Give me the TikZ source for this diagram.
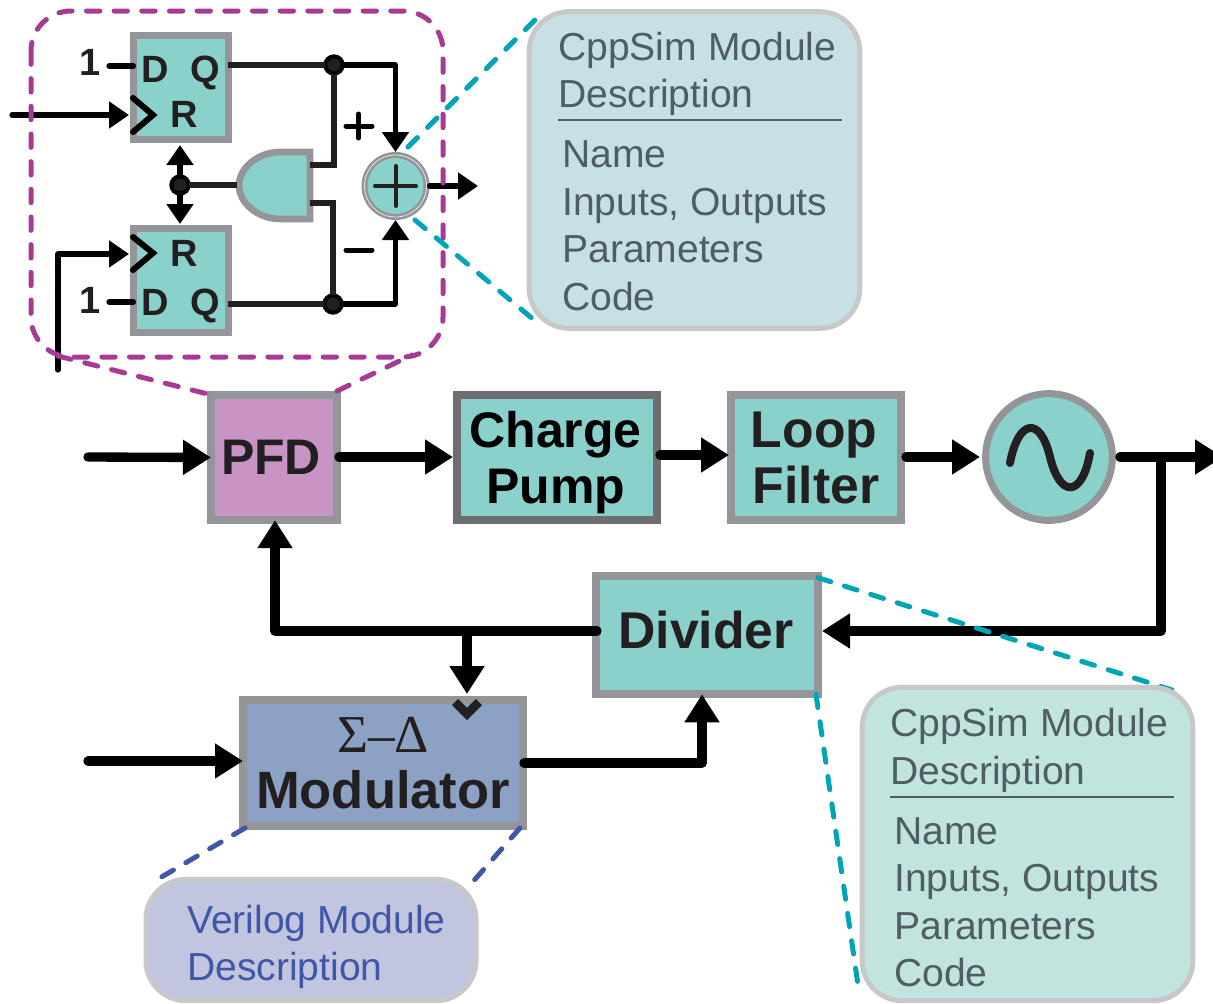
\documentclass[tikz,border=0pt]{standalone}
\usepackage{fontspec}
\setmainfont{Liberation Sans}
\newfontfamily\serifgreek{Liberation Serif}
\usetikzlibrary{arrows.meta}
\definecolor{tealfill}{HTML}{8AD1CB}
\definecolor{boxgray}{HTML}{939598}
\definecolor{darkgray}{HTML}{6D6E71}
\definecolor{pfdfill}{HTML}{C794C4}
\definecolor{modfill}{HTML}{8BA2C4}
\definecolor{ink}{HTML}{231F20}
\definecolor{magdash}{HTML}{A63A95}
\definecolor{teadash}{HTML}{00A5B5}
\definecolor{bludash}{HTML}{3F57A6}
\definecolor{calloutA}{HTML}{C7E0E5}
\definecolor{calloutB}{HTML}{C2E4DF}
\definecolor{calloutC}{HTML}{C2C5E0}
\definecolor{calloutedge}{HTML}{C8C8C8}
\definecolor{callouttext}{HTML}{4F5E62}
\tikzset{
  block/.style={draw=boxgray,fill=tealfill,line width=6pt,rectangle,inner sep=0pt,outer sep=0pt},
  blocktext/.style={anchor=base,inner sep=0pt,font=\fontsize{38.8}{42}\selectfont\bfseries,text=ink},
  ffbox/.style={draw=boxgray,fill=tealfill,line width=5.25pt,rectangle,inner sep=0pt,outer sep=0pt,minimum width=71.25pt,minimum height=78pt},
  callout/.style={draw=calloutedge,line width=3.75pt,rectangle,rounded corners=30pt,inner sep=0pt,outer sep=0pt},
  ctext/.style={anchor=base west,inner sep=0pt,font=\fontsize{29.3}{32}\selectfont,text=callouttext},
  vtext/.style={ctext,text=bludash},
  ffletter/.style={anchor=base,inner sep=0pt,font=\fontsize{28.5}{30}\selectfont\bfseries,text=ink},
  wire/.style={line width=3.9pt,draw=ink,line cap=butt,line join=round},
  smallarrow/.style={line width=3.9pt,draw=black,line join=round,line cap=round,-{Triangle[length=15pt,width=19.5pt]}},
  mainarrow/.style={line width=7pt,draw=black,line join=round,line cap=round,-{Triangle[length=21pt,width=25pt]}},
  joint/.style={circle,fill=ink,draw=black,line width=3pt,inner sep=0pt,minimum size=13pt,outer sep=0pt},
  dashcommon/.style={line width=3.75pt,dash pattern=on 10pt off 10.75pt,line cap=round},
  magdashed/.style={dashcommon,draw=magdash},
  teadashed/.style={dashcommon,draw=teadash},
  bludashed/.style={dashcommon,draw=bludash},
}
\begin{document}
\begin{tikzpicture}[x=0.75pt,y=-0.75pt]
\useasboundingbox (0,0) rectangle (1213,1003);
\clip (0,0) rectangle (1213,1003);
% ---------- main blocks
\node[block,fill=pfdfill,minimum width=94.5pt,minimum height=94pt] (pfd) at (274,457.5) {};
\node[blocktext,font=\fontsize{37.5}{42}\selectfont\bfseries] (pfdt) at (271,474) {PFD};
\node[block,draw=darkgray,minimum width=150pt,minimum height=94pt] (cp) at (557,457.5) {};
\node[blocktext,font=\fontsize{37.5}{42}\selectfont\bfseries,text=black] (cpa) at (555.5,447) {Charge};
\node[blocktext,font=\fontsize{37.5}{42}\selectfont\bfseries,text=black] (cpb) at (556,503) {Pump};
\node[block,minimum width=127.5pt,minimum height=94pt] (lf) at (816,457.5) {};
\node[blocktext] (lfa) at (814,447) {Loop};
\node[blocktext] (lfb) at (816,503) {Filter};
\node[circle,draw=boxgray,fill=tealfill,line width=5.25pt,inner sep=0pt,outer sep=0pt,minimum size=95pt] (vco) at (1049,457) {};
\draw[line width=6pt,draw=ink,line cap=round] (1010,463) .. controls (1018,420) and (1040,415) .. (1050,457) .. controls (1060,498) and (1082,498) .. (1090,453);
\node[block,minimum width=166.5pt,minimum height=89pt] (div) at (707,635) {};
\node[blocktext] (divt) at (706,648) {Divider};
\node[block,fill=modfill,minimum width=210pt,minimum height=94.5pt] (mod) at (383,763) {};
\node[inner sep=0pt,font=\fontsize{40}{42}\selectfont\serifgreek,text=ink] (sd) at (383,735) {Σ–Δ};
\node[blocktext,font=\fontsize{39.4}{42}\selectfont\bfseries] (modl) at (383,808) {Modulator};
% ---------- main connectors
\coordinate (pfdin) at (88,457);
\coordinate (modin) at (88,761);
\coordinate (pfdout) at (339,457);
\coordinate (cpin) at (453,457);
\coordinate (cpout) at (660,455);
\coordinate (lfin) at (729,455);
\coordinate (lfout) at (906,457);
\coordinate (vcoin) at (980,457);
\coordinate (vcoout) at (1120,457);
\coordinate (vcoend) at (1223,457);
\coordinate (branch) at (1161,457);
\coordinate (divin) at (822,631);
\coordinate (divout) at (597,631);
\coordinate (fbl) at (275,631);
\coordinate (fbm) at (467,631);
\coordinate (modtop) at (467,694);
\coordinate (modout) at (524,763);
\coordinate (modr) at (702,763);
\draw[mainarrow] (pfdin) -- (pfd.west);
\draw[mainarrow] (pfdout) -- (cpin);
\draw[mainarrow] (cpout) -- (lfin);
\draw[mainarrow] (lfout) -- (vcoin);
\draw[mainarrow] (vcoout) -- (vcoend);
\draw[mainarrow] (branch) |- (divin);
\draw[mainarrow] (divout) -- (fbl) -- (fbl |- pfd.south);
\draw[mainarrow] (fbm) -- (modtop);
\draw[line width=6.5pt,draw=ink] (455,702) -- (467,714) -- (479,702);
\draw[mainarrow] (modout) -- (modr) -- (modr |- div.south);
\draw[mainarrow] (modin) -- (mod.west |- modin);
% ---------- PFD detail
\node[ffbox] (ffa) at (181,87.5) {};
\node[ffbox] (ffb) at (181,280.5) {};
\node[ffletter] (da) at (155,82) {D};
\node[ffletter] (qa) at (205,82) {Q};
\node[ffletter] (ra) at (184,127) {R};
\node[ffletter] (rb) at (184,266) {R};
\node[ffletter] (db) at (155,315) {D};
\node[ffletter] (qb) at (205,315) {Q};
\node[ffletter] (onea) at (90,75) {1};
\node[ffletter] (oneb) at (90,313) {1};
\coordinate (wonea) at (109,66);
\coordinate (woneb) at (109,302);
\draw[wire,line cap=round,draw=black] (wonea) -- (ffa.west |- wonea);
\draw[wire,line cap=round,draw=black] (woneb) -- (ffb.west |- woneb);
\draw[line width=4.5pt,line cap=round,line join=miter,draw=black] (133,98) -- (153,115) -- (133,132);
\draw[line width=4.5pt,line cap=round,line join=miter,draw=black] (133,237) -- (153,253) -- (133,270);
% AND gate
\draw[draw=boxgray,fill=tealfill,line width=5pt,line join=miter] (310,152) -- (310,219) -- (280,219) .. controls (258,219) and (239,203) .. (239,185.5) .. controls (239,168) and (258,152) .. (280,152) -- cycle;
\coordinate (gatel) at (237,185);
\coordinate (gateu) at (310,165);
\coordinate (gated) at (310,203);
\node[joint] (ja) at (334,65) {};
\node[joint] (jb) at (333,304) {};
\node[joint] (jc) at (180,185) {};
\node[circle,draw=boxgray,fill=tealfill,line width=4.5pt,inner sep=0pt,outer sep=2.25pt,minimum size=46.5pt] (sum) at (395.5,186) {};
\draw[draw=white!75!boxgray,line width=0.6pt] (sum) circle (31);
\draw[line width=3pt,line cap=round,draw=ink] (375,186) -- (416,186);
\draw[line width=3pt,line cap=round,draw=ink] (395.5,166) -- (395.5,206);
\draw[wire] (ffa.east |- ja) ++(-1,0) -- (ja);
\draw[wire] (ffb.east |- jb) ++(-1,0) -- (jb);
\draw[wire,line join=miter] (ja) -- (ja |- gateu) -- (gateu);
\draw[wire,line join=miter] (gated) -- (jb |- gated) -- (jb);
\draw[wire] (jc) -- (gatel);
\draw[smallarrow] (ja) -| (sum.north);
\draw[smallarrow] (jb) -| (sum.south);
\draw[smallarrow] (jc) -- (180,145);
\draw[smallarrow] (jc) -- (180,224);
\coordinate (ina) at (12,115);
\coordinate (inb) at (58,370);
\coordinate (sumout) at (478,186);
\draw[smallarrow] (ina) -- (129,115);
\draw[smallarrow] (inb) -- (58,254) -- (129,254);
\draw[smallarrow] (sum.east) -- (sumout);
\draw[line width=3.75pt,line cap=round,draw=black] (346,126) -- (372,126) (358.5,114) -- (358.5,138);
\draw[line width=3.75pt,line cap=round,draw=black] (346,250) -- (372,250);
% ---------- dashed zoom outlines
\draw[magdashed,rounded corners=30pt] (31,11) rectangle (443,357);
\coordinate (ma) at (58,356);
\coordinate (mb) at (337,391);
\coordinate (mc) at (412,355);
\draw[magdashed] (ma) -- (pfd.north west);
\draw[magdashed] (mb) -- (mc);
\coordinate (taa) at (408,147);
\coordinate (tab) at (540,15);
\coordinate (tba) at (415,220);
\coordinate (tbb) at (540,325);
\draw[teadashed] (taa) -- (tab);
\draw[teadashed] (tba) -- (tbb);
\coordinate (tca) at (1172,690);
\coordinate (tcb) at (858,985);
\draw[teadashed] (div.north east) ++(0,2) -- (tca);
\draw[teadashed] (div.south east) ++(-2,0) -- (tcb);
\coordinate (bla) at (153,882);
\coordinate (blb) at (470,885);
\draw[bludashed] (mod.south west) ++(2,2) -- (bla);
\draw[bludashed] (mod.south east) ++(-3,2) -- (blb);
% ---------- callouts
\node[callout,fill=calloutA,minimum width=248pt,minimum height=237.5pt] (ca) at (694.5,170) {};
\node[callout,fill=calloutB,minimum width=248pt,minimum height=235pt] (cb) at (1027.5,844) {};
\node[callout,fill=calloutC,minimum width=247.5pt,minimum height=91pt] (cc) at (311,940) {};
\node[ctext] (t1) at (558,60) {CppSim Module};
\node[ctext] (t2) at (558,107) {Description};
\draw[draw=callouttext,line width=1.8pt] (558,120) -- (842,120);
\node[ctext] (t3) at (562,167) {Name};
\node[ctext] (t4) at (562,215) {Inputs, Outputs};
\node[ctext] (t5) at (562,262) {Parameters};
\node[ctext] (t6) at (562,310) {Code};
\node[ctext] (u1) at (890,736) {CppSim Module};
\node[ctext] (u2) at (890,784) {Description};
\draw[draw=callouttext,line width=1.8pt] (890,797) -- (1174,797);
\node[ctext] (u3) at (894,844) {Name};
\node[ctext] (u4) at (894,891) {Inputs, Outputs};
\node[ctext] (u5) at (894,939) {Parameters};
\node[ctext] (u6) at (894,986) {Code};
\node[vtext] (v1) at (187,933) {Verilog Module};
\node[vtext] (v2) at (187,980) {Description};
\end{tikzpicture}
\end{document}
